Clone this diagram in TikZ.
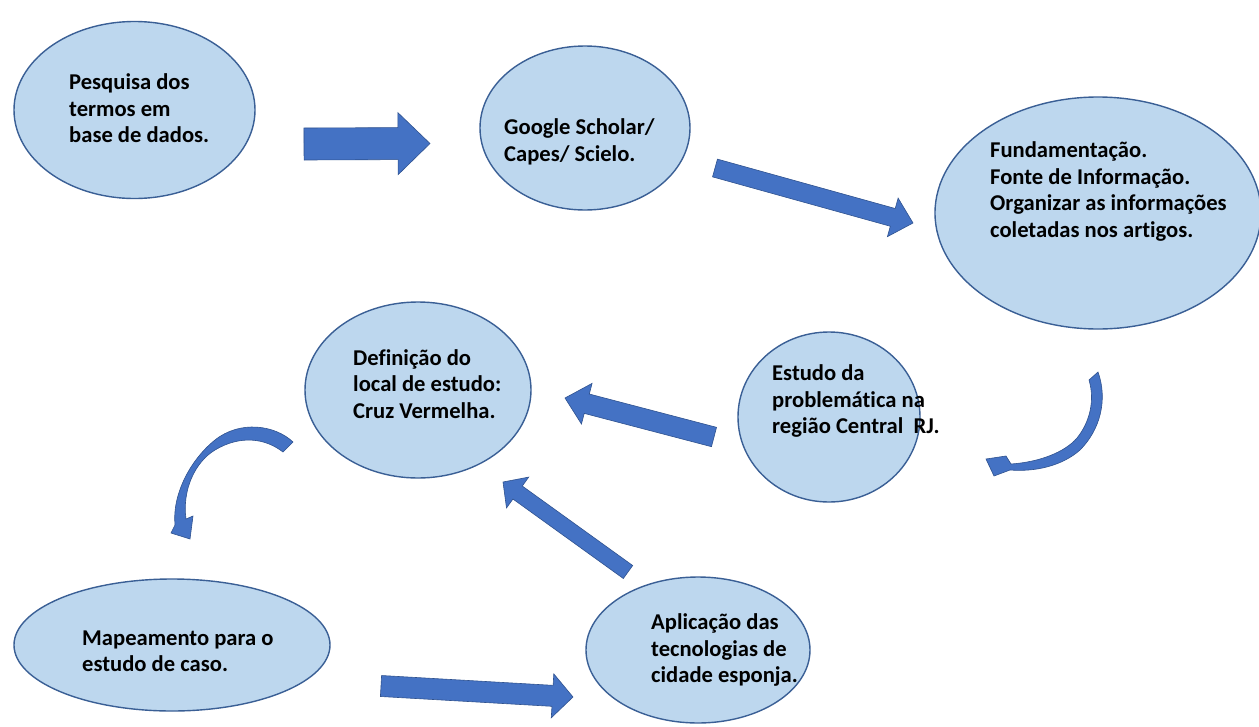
\documentclass[tikz,border=0pt]{standalone}
\usepackage{fontspec}
\setmainfont{Carlito}[Ligatures=NoCommon]
\usetikzlibrary{calc,shapes.geometric}
\definecolor{bubblefill}{HTML}{BDD7EE}
\definecolor{bubbleline}{HTML}{3A5F95}
\definecolor{arrowfill}{HTML}{4472C4}
\definecolor{arrowline}{HTML}{2F528F}
\tikzset{
  bubble/.style={ellipse, fill=bubblefill, draw=bubbleline, line width=1.4pt, inner sep=0pt},
  caption/.style={align=left, anchor=west, inner sep=0pt, text=black,
    font=\bfseries\fontsize{22.6}{26.5}\selectfont},
  blockarrow/.style={fill=arrowfill, draw=arrowline, line width=0.6pt, line join=miter},
}
% straight block arrow: tail, tip, shaft half-width, head half-width, head length
\newcommand\blockarrow[5]{%
  \coordinate (hb) at ($(#2)!#5!(#1)$);
  \draw[blockarrow] ($(#1)!#3!90:(#2)$) -- ($(hb)!#3!90:(#2)$) -- ($(hb)!#4!90:(#2)$)
    -- (#2) -- ($(hb)!#4!-90:(#2)$) -- ($(hb)!#3!-90:(#2)$) -- ($(#1)!#3!-90:(#2)$) -- cycle;
}
\begin{document}
\begin{tikzpicture}[x=1pt,y=1pt]
\useasboundingbox (0,0) rectangle (1259,-726);
\fill[white] (0,0) rectangle (1259,-726);

% process steps
\node[bubble, minimum width=241pt, minimum height=177pt] (pesquisa) at (134.5,-110) {};
\node[bubble, minimum width=210pt, minimum height=164pt] (google) at (585,-128) {};
\node[bubble, minimum width=326pt, minimum height=232pt] (fund) at (1098,-213) {};
\node[bubble, minimum width=182pt, minimum height=170pt] (estudo) at (829,-417) {};
\node[bubble, minimum width=226pt, minimum height=176pt] (definicao) at (418,-390) {};
\node[bubble, minimum width=316pt, minimum height=132pt] (mapa) at (172,-645) {};
\node[bubble, minimum width=224pt, minimum height=146pt] (aplic) at (698,-650) {};

\node[caption] (tpesquisa) at (69,-108.5) {Pesquisa dos\\termos em\\base de dados.};
\node[caption] (tgoogle) at (504,-142) {Google Scholar/\\Capes/ Scielo.};
\node[caption] (tfund) at (990,-191.5) {Fundamentação.\\Fonte de Informação.\\Organizar as informações\\coletadas nos artigos.};
\node[caption] (testudo) at (772,-401) {Estudo da\\problemática na\\região Central~ RJ.};
\node[caption] (tdef) at (353,-384) {Definição do\\local de estudo:\\Cruz Vermelha.};
\node[caption] (tmapa) at (82,-651) {Mapeamento para o\\estudo de caso.};
\node[caption] (taplic) at (651,-650) {Aplicação das\\tecnologias de\\cidade esponja.};

% straight block arrows
\coordinate (a1t) at (304,-144);  \coordinate (a1h) at (430,-143.5);
\coordinate (a2t) at (715,-168);  \coordinate (a2h) at (913,-223);
\coordinate (a3t) at (714,-437);  \coordinate (a3h) at (565,-398);
\coordinate (a4t) at (628,-572);  \coordinate (a4h) at (503,-482);
\coordinate (a5t) at (381,-686);  \coordinate (a5h) at (573,-697);
\blockarrow{a1t}{a1h}{16pt}{31pt}{32pt}
\blockarrow{a2t}{a2h}{9.2pt}{20pt}{21pt}
\blockarrow{a3t}{a3h}{10pt}{21pt}{22.5pt}
\blockarrow{a4t}{a4h}{8pt}{19pt}{18pt}
\blockarrow{a5t}{a5h}{10.5pt}{22pt}{20.5pt}

% curved arrow on the right, down towards the study step
\draw[blockarrow] (1098,-372) .. controls (1108,-400) and (1100,-430) .. (1080,-450)
  .. controls (1062,-466) and (1035,-472) .. (1010,-470)
  -- (994,-476) -- (986,-459) -- (1006,-456) -- (1011,-464)
  .. controls (1040,-462) and (1065,-452) .. (1077,-438)
  .. controls (1090,-422) and (1095,-400) .. (1089,-380) -- cycle;

% curved arrow on the left, down towards the mapping step
\draw[blockarrow] (293,-442) .. controls (275,-425) and (240,-420) .. (215,-440)
  .. controls (190,-460) and (172,-495) .. (175,-525)
  -- (171,-533) -- (190,-539) -- (193,-516) -- (186,-519)
  .. controls (182,-490) and (195,-462) .. (215,-450)
  .. controls (240,-435) and (265,-438) .. (283,-452) -- cycle;
\end{tikzpicture}
\end{document}
